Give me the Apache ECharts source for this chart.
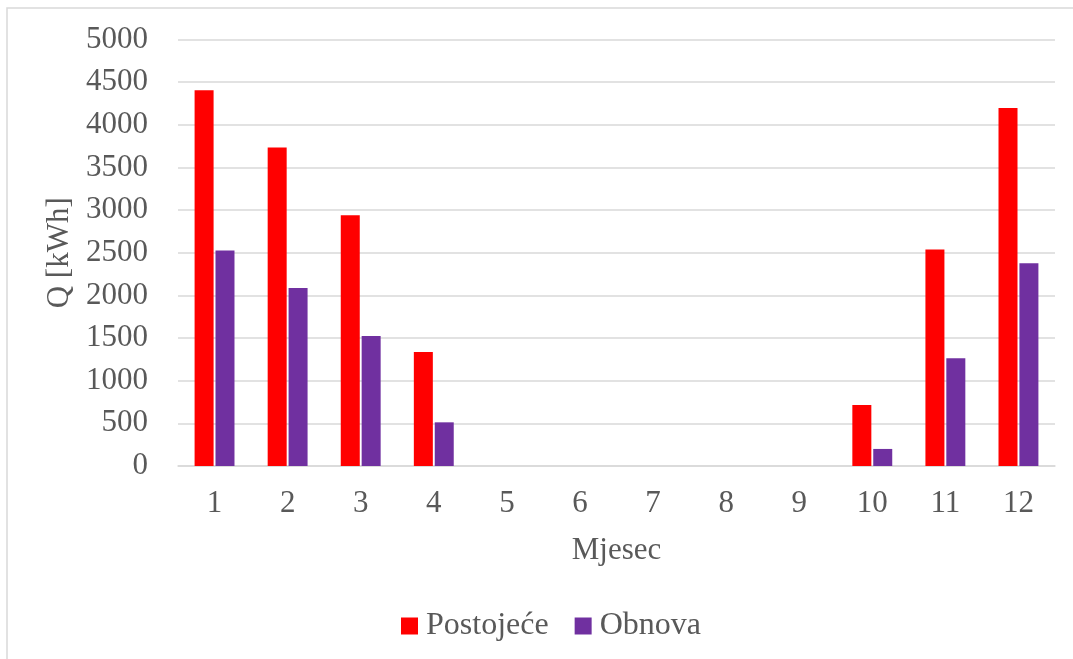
<!DOCTYPE html>
<html>
<head>
<meta charset="utf-8">
<script src="https://cdn.jsdelivr.net/npm/echarts@6/dist/echarts.min.js"></script>
<style>
html,body{margin:0;padding:0;background:#fff;}
#chart{width:1073px;height:659px;}
</style>
</head>
<body>
<div id="chart"></div>
<script>
const months = ['1','2','3','4','5','6','7','8','9','10','11','12'];
const postojece = [4405, 3735, 2940, 1336, 0, 0, 0, 0, 0, 715, 2538, 4198];
const obnova = [2525, 2088, 1523, 512, 0, 0, 0, 0, 0, 200, 1262, 2378];
const seriesNames = ['Postojeće', 'Obnova'];
const yTicks = {min: 0, max: 5000, interval: 500};

const font = 'Liberation Serif, Times New Roman, serif';
const txt = '#595959';
const fs = 31;
const chart = echarts.init(document.getElementById('chart'));
chart.setOption({
  animation: false,
  backgroundColor: '#fff',
  graphic: [{
    type: 'rect', silent: true,
    shape: {x: 7, y: 8, width: 1100, height: 700},
    style: {fill: 'none', stroke: '#d9d9d9', lineWidth: 1.5}
  }],
  grid: {left: 178, right: 18, top: 39.5, bottom: 193, containLabel: false},
  legend: {
    data: seriesNames,
    bottom: 12,
    left: 396,
    itemWidth: 17, itemHeight: 17, itemGap: 26,
    icon: 'rect',
    textStyle: {fontFamily: font, fontSize: 32, color: txt, padding: [0, 0, 0, 3]}
  },
  xAxis: {
    type: 'category',
    data: months,
    name: 'Mjesec',
    nameLocation: 'middle',
    nameGap: 69,
    nameTextStyle: {fontFamily: font, fontSize: fs, color: txt},
    axisLine: {lineStyle: {color: '#d9d9d9', width: 1.5}},
    axisTick: {show: false},
    axisLabel: {fontFamily: font, fontSize: fs, color: txt, margin: 22}
  },
  yAxis: {
    type: 'value',
    min: yTicks.min, max: yTicks.max, interval: yTicks.interval,
    name: 'Q [kWh]',
    nameLocation: 'middle',
    nameGap: 101,
    nameRotate: 90,
    nameTextStyle: {fontFamily: font, fontSize: fs, color: txt},
    axisLine: {show: false},
    axisTick: {show: false},
    splitLine: {lineStyle: {color: '#d9d9d9', width: 1.5}},
    axisLabel: {fontFamily: font, fontSize: fs, color: txt, margin: 30,
      formatter: function (v) { return String(v); }}
  },
  series: [
    {name: seriesNames[0], type: 'bar', data: postojece, barWidth: 19, barGap: '10%',
     itemStyle: {color: '#FF0000'}},
    {name: seriesNames[1], type: 'bar', data: obnova, barWidth: 19,
     itemStyle: {color: '#7030A0'}}
  ]
});
</script>
</body>
</html>
